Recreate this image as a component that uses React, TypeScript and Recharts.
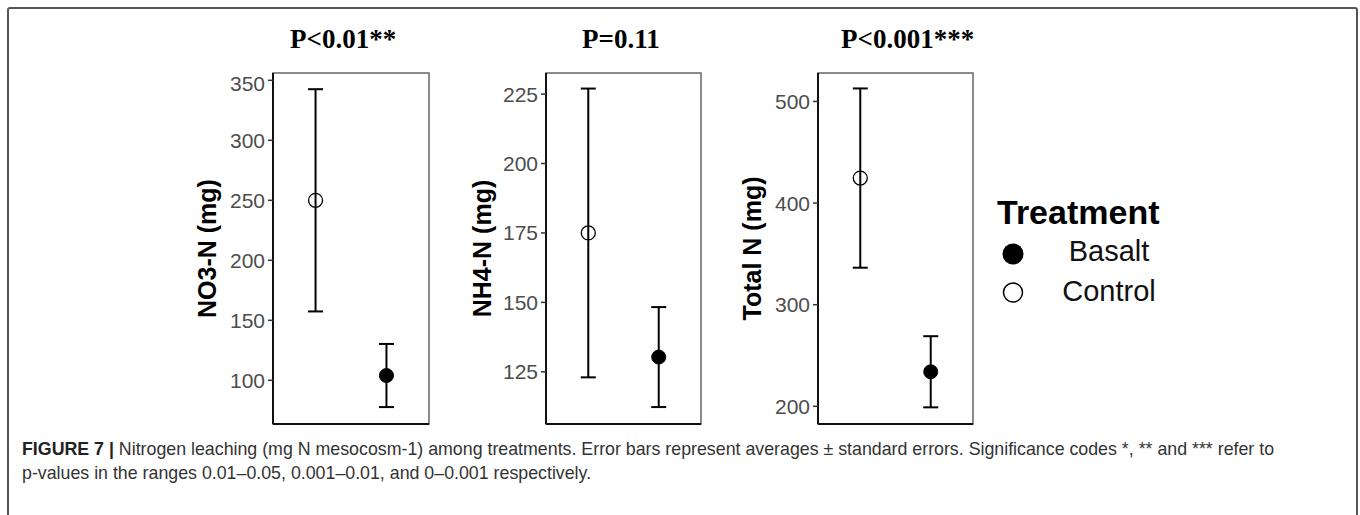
import React from 'react'
import { ComposedChart, Scatter, ErrorBar, XAxis, YAxis, ReferenceArea } from 'recharts'

// treatments are placed at x = 1 and 2, ggplot style padding on both sides
const treatments = ['Control', 'Basalt']
const xPos = [1, 2]

const no3Mean = [250, 104]
const no3Se = [92.6, 26.3]
const nh4Mean = [175, 130.3]
const nh4Se = [52, 18]
const totalMean = [424.6, 234]
const totalSe = [88.2, 35]

const no3Ticks = [100, 150, 200, 250, 300, 350]
const nh4Ticks = [125, 150, 175, 200, 225]
const totalTicks = [200, 300, 400, 500]

const no3Domain = [63.6, 356.1]
const nh4Domain = [106.2, 232.6]
const totalDomain = [182.6, 528]

const SANS = "'Liberation Sans', Arial, Helvetica, sans-serif"
const SERIF = "'Liberation Serif', 'Times New Roman', serif"

const Y_AXIS_W = 100

function Dot(props: any) {
  const { cx, cy, payload } = props
  const open = payload.treatment === 'Control'
  return (
    <circle cx={cx} cy={cy} r={7} fill={open ? 'none' : '#000'} stroke="#000" strokeWidth={open ? 1.3 : 1} />
  )
}

interface PanelProps {
  left: number
  boxWidth: number
  label: string
  labelOffset: number
  means: number[]
  ses: number[]
  ticks: number[]
  domain: number[]
}

function Panel({ left, boxWidth, label, labelOffset, means, ses, ticks, domain }: PanelProps) {
  const series = treatments.map((t, i) => [{ treatment: t, x: xPos[i], y: means[i], se: ses[i] }])
  const boxHeight = 351
  return (
    <div style={{ position: 'absolute', left: left - Y_AXIS_W, top: 71 }}>
      <ComposedChart
        width={Y_AXIS_W + boxWidth + 4}
        height={boxHeight + 2 + 4}
        margin={{ top: 2, right: 4, bottom: 0, left: 0 }}
      >
        <XAxis
          type="number"
          dataKey="x"
          domain={[0.4, 2.6]}
          tick={false}
          tickLine={false}
          axisLine={{ stroke: '#111', strokeWidth: 2 }}
          height={4}
        />
        <YAxis
          type="number"
          dataKey="y"
          domain={domain}
          ticks={ticks}
          width={Y_AXIS_W}
          tickSize={5}
          tickMargin={3}
          tick={{ fontSize: 21, fill: '#4d4d4d', fontFamily: SANS }}
          tickLine={{ stroke: '#333', strokeWidth: 1.5 }}
          axisLine={{ stroke: '#111', strokeWidth: 2 }}
          label={{
            content: (p: any) => {
              const vb = p.viewBox
              const cx = vb.x + vb.width - labelOffset
              const cy = vb.y + vb.height / 2
              return (
                <text
                  x={cx}
                  y={cy}
                  transform={`rotate(-90 ${cx} ${cy})`}
                  textAnchor="middle"
                  dominantBaseline="central"
                  fontFamily={SANS}
                  fontWeight={700}
                  fontSize={25}
                  fill="#000"
                >
                  {label}
                </text>
              )
            },
          }}
        />
        <ReferenceArea
          x1={0.4}
          x2={2.6}
          y1={domain[0]}
          y2={domain[1]}
          fill="none"
          stroke="#666"
          strokeWidth={1.5}
          ifOverflow="visible"
        />
        {series.map((d, i) => (
          <Scatter key={treatments[i]} name={treatments[i]} data={d} dataKey="y" shape={Dot} isAnimationActive={false}>
            <ErrorBar dataKey="se" direction="y" width={7.5} stroke="#000" strokeWidth={2} />
          </Scatter>
        ))}
      </ComposedChart>
    </div>
  )
}

export default function App() {
  return (
    <div style={{ position: 'absolute', left: 0, top: 0, width: 1360, height: 515, overflow: 'hidden', background: '#fff' }}>
      <div style={{ position: 'absolute', left: 7, top: 7, width: 1347, height: 600, border: '2px solid #555', borderRadius: 3 }} />

      <svg width={1360} height={515} style={{ position: 'absolute', left: 0, top: 0 }}>
        <g fontFamily={SERIF} fontWeight={700} fontSize={27} fill="#000">
          <text x={290} y={48}>P&lt;0.01**</text>
          <text x={582} y={48}>P=0.11</text>
          <text x={841} y={48}>P&lt;0.001***</text>
        </g>
        <text x={997} y={224} fontFamily={SANS} fontWeight={700} fontSize={34} fill="#000">Treatment</text>
        <circle cx={1013} cy={254} r={10.5} fill="#000" />
        <text x={1109} y={261} textAnchor="middle" fontFamily={SANS} fontSize={29} fill="#111">Basalt</text>
        <circle cx={1013} cy={292.5} r={9.5} fill="none" stroke="#000" strokeWidth={1.5} />
        <text x={1109} y={301} textAnchor="middle" fontFamily={SANS} fontSize={29} fill="#111">Control</text>
      </svg>

      <Panel left={273} boxWidth={156} label="NO3-N (mg)" labelOffset={66} means={no3Mean} ses={no3Se} ticks={no3Ticks} domain={no3Domain} />
      <Panel left={546} boxWidth={155} label="NH4-N (mg)" labelOffset={64} means={nh4Mean} ses={nh4Se} ticks={nh4Ticks} domain={nh4Domain} />
      <Panel left={818} boxWidth={155} label="Total N (mg)" labelOffset={66} means={totalMean} ses={totalSe} ticks={totalTicks} domain={totalDomain} />

      <div
        style={{
          position: 'absolute',
          left: 22,
          top: 437,
          fontFamily: SANS,
          fontSize: 17.8,
          lineHeight: '24px',
          color: '#333',
          whiteSpace: 'nowrap',
        }}
      >
        <b style={{ color: '#222' }}>FIGURE 7 |</b> Nitrogen leaching (mg N mesocosm-1) among treatments. Error bars represent averages ± standard errors. Significance codes *, ** and *** refer to
        <br />
        p-values in the ranges 0.01–0.05, 0.001–0.01, and 0–0.001 respectively.
      </div>
    </div>
  )
}
